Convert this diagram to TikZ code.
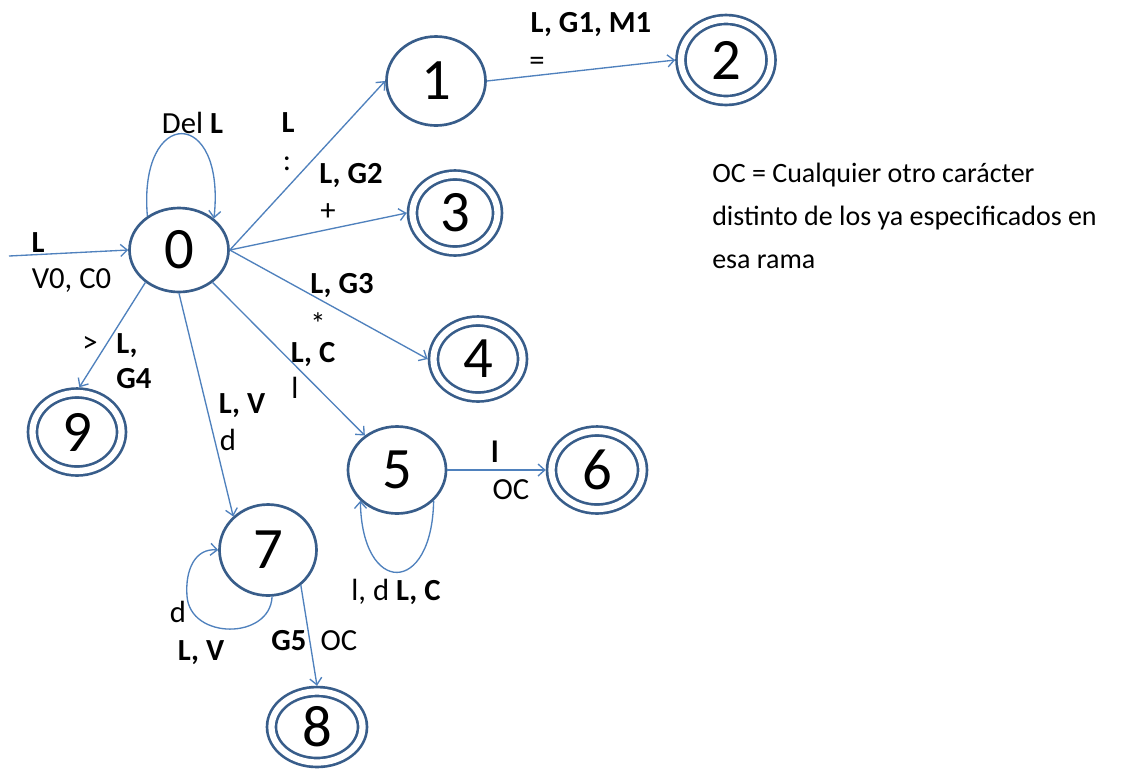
\documentclass[tikz,border=0pt]{standalone}
\usepackage{fontspec}
\setmainfont{Carlito}
\usetikzlibrary{shapes.geometric,arrows.meta}
\definecolor{edgeblue}{RGB}{79,129,189}
\definecolor{nodeblue}{RGB}{56,93,138}
\begin{document}
\begin{tikzpicture}[x=0.75pt,y=-0.75pt,
  state/.style={ellipse, draw=nodeblue, line width=2pt, inner sep=0pt, font=\fontsize{44}{50}\selectfont},
  accept/.style={state, double, double distance=4.7pt, outer sep=4.35pt},
  edge/.style={draw=edgeblue, line width=1pt, -{Straight Barb[length=5pt,width=9pt]}},
  lbl/.style={anchor=base, font=\fontsize{23}{28}\selectfont, inner sep=0pt},
  legend/.style={anchor=base west, font=\fontsize{21}{28}\selectfont, inner sep=0pt}]
\fill[white] (0,0) rectangle (1123,776);
\useasboundingbox (0,0) rectangle (1123,776);

% states
\node[state, minimum width=74.25pt, minimum height=63pt] (n0) at (179,250) {0};
\node[state, minimum width=74.25pt, minimum height=66.75pt] (n1) at (436,81) {1};
\node[accept, minimum width=67.5pt, minimum height=60.75pt] (n2) at (726,60) {2};
\node[accept, minimum width=63.75pt, minimum height=57pt] (n3) at (455,213) {3};
\node[accept, minimum width=66.75pt, minimum height=57pt] (n4) at (478,359) {4};
\node[state, minimum width=73.5pt, minimum height=65.25pt] (n5) at (397,470) {5};
\node[accept, minimum width=68.25pt, minimum height=58.5pt] (n6) at (597,470) {6};
\node[state, minimum width=72.75pt, minimum height=68.25pt] (n7) at (268,550) {7};
\node[accept, minimum width=68.25pt, minimum height=53.25pt] (n8) at (317,727) {8};
\node[accept, minimum width=66.75pt, minimum height=58.5pt] (n9) at (77,432) {9};

\coordinate (start) at (9,256);

% transitions
\draw[edge] (start) -- (n0.west);
\draw[edge] (n0.east) -- (n1.west);
\draw[edge] (n0.east) -- (n3.west);
\draw[edge] (n0.east) -- (n4.west);
\draw[edge] (n0.-44) -- (n5.133);
\draw[edge] (n0.-90) -- (n7.136);
\draw[edge] (n0.224) -- (n9.87);
\draw[edge] (n1.east) -- (n2.west);
\draw[edge] (n5.east) -- (n6.west);
\draw[edge] (n7.-47) -- (n8.north);
% loops
\draw[edge] (n0.133) .. controls (138,106) and (226,106) .. (n0.42);
\draw[edge] (n5.-40) .. controls (432,596) and (362,596) .. (n5.-140);
\draw[edge] (n7.-85) .. controls (270,640) and (190,640) .. (187,596)
  .. controls (185,570) and (195,548) .. (n7.west);

% labels
\node[lbl] (l00) at (192.5,133) {Del \textbf{L}};
\node[lbl] (li1) at (38,252) {\textbf{L}};
\node[lbl] (li2) at (71.5,288) {V0, C0};
\node[lbl] (l01a) at (288,132) {\textbf{L}};
\node[lbl] (l01b) at (287,170) {:};
\node[lbl] (l12a) at (591,32) {\textbf{L, G1, M1}};
\node[lbl] (l12b) at (537,70) {=};
\node[lbl] (l03a) at (351,183) {\textbf{L, G2}};
\node[lbl] (l03b) at (328,220) {+};
\node[lbl] (l04a) at (342,293) {\textbf{L, G3}};
\node[lbl] (l04b) at (318,334) {*};
\node[lbl] (l05a) at (313,362) {\textbf{L, C}};
\node[lbl] (l05b) at (295,398) {l};
\node[lbl] (l07a) at (242,413) {\textbf{L, V}};
\node[lbl] (l07b) at (228,450) {d};
\node[lbl] (l09a) at (90,352) {>};
\node[lbl] (l09b) at (127,353) {\textbf{L,}};
\node[lbl] (l09c) at (134,388) {\textbf{G4}};
\node[lbl] (l56a) at (495,462) {\textbf{l}};
\node[lbl] (l56b) at (511,499) {OC};
\node[lbl] (l55) at (396,600) {l, d \textbf{L, C}};
\node[lbl] (l77a) at (178,622) {d};
\node[lbl] (l77b) at (201,660) {\textbf{L, V}};
\node[lbl] (l78a) at (289,650) {\textbf{G5}};
\node[lbl] (l78b) at (339,650) {OC};

% legend
\node[legend] (lg1) at (712,182) {OC = Cualquier otro carácter};
\node[legend] (lg2) at (712,225) {distinto de los ya especificados en};
\node[legend] (lg3) at (712,268) {esa rama};
\end{tikzpicture}
\end{document}
